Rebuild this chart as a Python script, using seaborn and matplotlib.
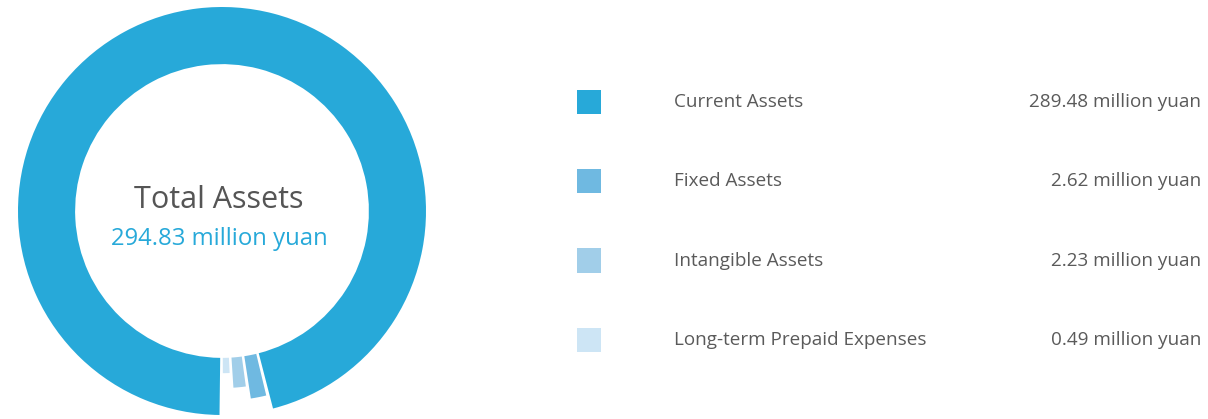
import matplotlib
matplotlib.use("Agg")
import matplotlib.pyplot as plt
from matplotlib.patches import Wedge
import numpy as np
import pandas as pd
import seaborn as sns

# ---- data -------------------------------------------------------------
categories = ["Current Assets", "Fixed Assets", "Intangible Assets",
              "Long-term Prepaid Expenses"]
values = [289.48, 2.62, 2.23, 0.49]          # million yuan
value_labels = ["289.48 million yuan", "2.62 million yuan",
                "2.23 million yuan", "0.49 million yuan"]
total_label = "Total Assets"
total_value_label = "294.83 million yuan"

# ---- style ------------------------------------------------------------
colors = ["#27A9D9", "#6FB9E1", "#A1CEE9", "#CDE5F5"]
outer_radii = [1.0, 0.93, 0.868, 0.795]      # small slices step inwards
inner_radius = 0.72
pad_deg = 1.0                                # white gap between slices
small_gain = 1.5                             # widen small slices for legibility
min_deg = 2.4

sns.set_theme(style="white")
plt.rcParams["font.family"] = ["Open Sans", "DejaVu Sans"]

W, H = 1208, 419
fig = plt.figure(figsize=(W / 100, H / 100), dpi=100)
fig.patch.set_facecolor("white")

# ---- donut ------------------------------------------------------------
cx, cy, R = 222, 211, 204
ax = fig.add_axes([(cx - R) / W, (H - cy - R) / H, 2 * R / W, 2 * R / H])
ax.set_xlim(-1, 1)
ax.set_ylim(-1, 1)
ax.set_aspect("equal")
ax.axis("off")

vals = np.asarray(values, dtype=float)
avail = 360.0 - pad_deg * len(vals)
spans = vals / vals.sum() * avail
small = np.arange(len(vals)) > 0
spans[small] = np.maximum(spans[small] * small_gain, min_deg)
spans[0] = avail - spans[small].sum()

# slices run counter-clockwise from the bottom: smallest first, largest last
order = list(range(len(vals)))[::-1]
theta = 270.0 + 0.3
for i in order:
    w = Wedge((0, 0), outer_radii[i], theta, theta + spans[i],
              width=outer_radii[i] - inner_radius,
              facecolor=colors[i], edgecolor="none")
    ax.add_patch(w)
    theta += spans[i] + pad_deg

# ---- overlay for text and legend (pixel coordinates) ------------------
ov = fig.add_axes([0, 0, 1, 1], facecolor="none")
ov.set_xlim(0, W)
ov.set_ylim(H, 0)
ov.axis("off")

ov.text(219, 208, total_label, ha="center", va="baseline",
        fontsize=22, color="#555555")
ov.text(219, 244.5, total_value_label, ha="center", va="baseline",
        fontsize=17.2, color=colors[0])

row_top, row_step = 101.7, 79.4
legend_df = pd.DataFrame({
    "category": categories,
    "x": [589] * len(categories),
    "y": [row_top + k * row_step for k in range(len(categories))],
})
sns.scatterplot(data=legend_df, x="x", y="y", hue="category",
                palette=dict(zip(categories, colors)), marker="s",
                s=17.5 ** 2, linewidth=0, legend=False, ax=ov)
ov.set_xlim(0, W)
ov.set_ylim(H, 0)
ov.axis("off")

for k, (name, lab) in enumerate(zip(categories, value_labels)):
    yb = row_top + k * row_step + 5.2
    ov.text(674, yb, name, ha="left", va="baseline",
            fontsize=13.6, color="#5a5a5a")
    ov.text(1201, yb, lab, ha="right", va="baseline",
            fontsize=13.6, color="#5a5a5a")

fig.savefig("out.png", dpi=100, facecolor="white")
